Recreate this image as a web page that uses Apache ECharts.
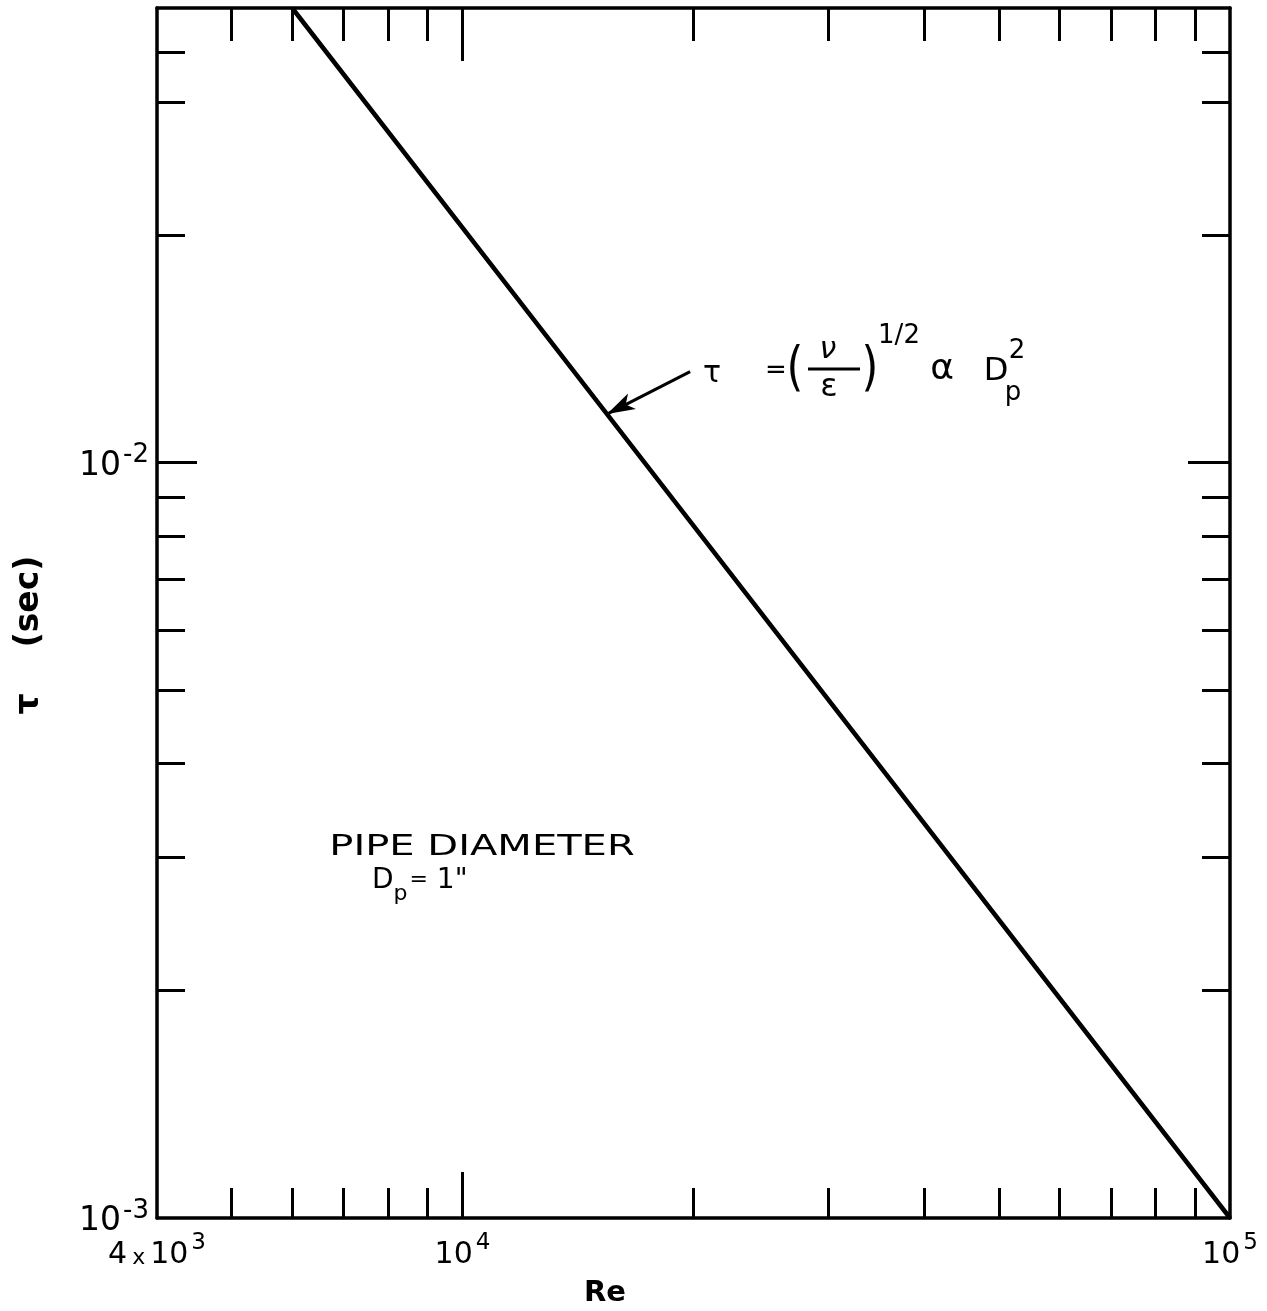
<!DOCTYPE html>
<html>
<head>
<meta charset="utf-8">
<title>Relaxation time vs Reynolds number</title>
<script src="https://cdn.jsdelivr.net/npm/echarts@6/dist/echarts.min.js"></script>
<style>
  html, body { margin: 0; padding: 0; background: #fff; }
  #chart { width: 1267px; height: 1311px; }
</style>
</head>
<body>
<div id="chart"></div>
<script>
// tau (sec) against Re for a 1-inch pipe, log-log
const reynolds = [6000, 15430, 100000];
const tauSec = [0.0400, 0.01160, 0.00100];

// tick positions
const xMinorTicks = [5000, 6000, 7000, 8000, 9000, 20000, 30000, 40000, 50000, 60000, 70000, 80000, 90000];
const xMajorTicks = [10000];
const yMinorTicks = [0.002, 0.003, 0.004, 0.005, 0.006, 0.007, 0.008, 0.009, 0.02, 0.03, 0.035];
const yMajorTicks = [0.01];

// tick labels: mantissa, base 10, exponent
const xLabelValues = [4000, 10000, 100000];
const xLabelMantissas = ['4', '', ''];
const xLabelExponents = ['3', '4', '5'];
const yLabelValues = [0.001, 0.01];
const yLabelExponents = ['-3', '-2'];

// arrow from the formula to the curve
const arrowFrom = [19800, 0.0132];
const arrowTo = [15430, 0.01160];

const FONT = 'DejaVu Sans';
const INK = '#000';

function nearestIndex(list, v) {
  let best = 0, bestD = Infinity;
  list.forEach((t, i) => {
    const d = Math.abs(Math.log(t) - Math.log(v));
    if (d < bestD) { bestD = d; best = i; }
  });
  return best;
}

const xLabelRich = {
  b: { fontFamily: FONT, fontSize: 30, color: INK, verticalAlign: 'bottom' },
  t: { fontFamily: FONT, fontSize: 22, color: INK, verticalAlign: 'bottom', padding: [0, 5, 1, 5] },
  e: { fontFamily: FONT, fontSize: 23, color: INK, verticalAlign: 'bottom', padding: [0, 0, 15, 3] }
};
const yLabelRich = {
  b: { fontFamily: FONT, fontSize: 33, color: INK, verticalAlign: 'bottom' },
  e: { fontFamily: FONT, fontSize: 26, color: INK, verticalAlign: 'bottom', padding: [0, 0, 14, 2] }
};

function xLabel(v) {
  const i = nearestIndex(xLabelValues, v);
  const m = xLabelMantissas[i];
  return (m ? '{b|' + m + '}{t|x}' : '') + '{b|10}{e|' + xLabelExponents[i] + '}';
}
function yLabel(v) {
  const i = nearestIndex(yLabelValues, v);
  return '{b|10}{e|' + yLabelExponents[i] + '}';
}

const axisLine = { show: true, onZero: false, lineStyle: { color: INK, width: 3.5 } };
const noLine = { show: false };
const noLabel = { show: false };
const tickStyle = { color: INK, width: 3 };

function xAxisDef(position, ticks, len, withLine, withLabel) {
  return {
    type: 'log', logBase: 10, min: 4000, max: 100000, position: position,
    gridIndex: 0,
    axisLine: withLine ? axisLine : noLine,
    splitLine: { show: false },
    minorTick: { show: false },
    axisTick: { show: true, inside: true, length: len, customValues: ticks, lineStyle: tickStyle },
    axisLabel: withLabel ? {
      show: true, customValues: xLabelValues, formatter: xLabel, rich: xLabelRich, margin: 14
    } : noLabel
  };
}
function yAxisDef(position, ticks, len, withLine, withLabel) {
  return {
    type: 'log', logBase: 10, min: 0.001, max: 0.04, position: position,
    gridIndex: 0,
    axisLine: withLine ? axisLine : noLine,
    splitLine: { show: false },
    minorTick: { show: false },
    axisTick: { show: true, inside: true, length: len, customValues: ticks, lineStyle: tickStyle },
    axisLabel: withLabel ? {
      show: true, customValues: yLabelValues, formatter: yLabel, rich: yLabelRich, margin: 8
    } : noLabel
  };
}

const option = {
  animation: false,
  backgroundColor: '#fff',
  grid: { left: 157, right: 37, top: 8, bottom: 93, containLabel: false },
  xAxis: [
    xAxisDef('bottom', xMinorTicks, 30, true, true),
    xAxisDef('bottom', xMajorTicks, 46, false, false),
    xAxisDef('top', xMinorTicks, 33, true, false),
    xAxisDef('top', xMajorTicks, 53, false, false)
  ],
  yAxis: [
    yAxisDef('left', yMinorTicks, 28, true, true),
    yAxisDef('left', yMajorTicks, 40, false, false),
    yAxisDef('right', yMinorTicks, 28, true, false),
    yAxisDef('right', yMajorTicks, 42, false, false)
  ],
  series: [{
    type: 'line',
    xAxisIndex: 0, yAxisIndex: 0,
    data: reynolds.map((r, i) => [r, tauSec[i]]),
    symbol: 'none',
    lineStyle: { color: INK, width: 4.5 },
    silent: true,
    markLine: {
      silent: true,
      symbol: ['none', 'arrow'],
      symbolSize: [13, 28],
      itemStyle: { color: INK },
      lineStyle: { color: INK, width: 3, type: 'solid', curveness: -0.12 },
      label: { show: false },
      data: [[{ coord: arrowFrom }, { coord: arrowTo }]]
    }
  }],
  graphic: [
    // axis titles
    { type: 'text', x: 605, y: 1293, style: { text: 'Re', font: 'bold 29px ' + FONT, fill: INK, align: 'center', verticalAlign: 'middle' } },
    { type: 'text', x: 29, y: 635, rotation: Math.PI / 2,
      style: { text: 'τ    (sec)', font: 'bold 33px ' + FONT, fill: INK, align: 'center', verticalAlign: 'middle' } },
    // pipe note
    { type: 'text', x: 482, y: 847, scaleX: 1.38,
      style: { text: 'PIPE DIAMETER', font: '29px ' + FONT, fill: INK, align: 'center', verticalAlign: 'middle' } },
    { type: 'text', x: 372, y: 886,
      style: {
        text: '{d|D}{p|p}{q|=}{d| 1"}', align: 'left', verticalAlign: 'middle',
        rich: {
          d: { fontFamily: FONT, fontSize: 28, fill: INK, color: INK, verticalAlign: 'bottom', padding: [0, 0, 10, 0] },
          q: { fontFamily: FONT, fontSize: 22, fill: INK, color: INK, verticalAlign: 'bottom', padding: [0, 0, 14, 0] },
          p: { fontFamily: FONT, fontSize: 22, fill: INK, color: INK, verticalAlign: 'bottom', padding: [0, 2, 0, 0] }
        }
      } },
    // formula: tau = (nu / epsilon)^(1/2) alpha D_p^2
    { type: 'text', x: 712, y: 374, style: { text: 'τ', font: '30px ' + FONT, fill: INK, align: 'center', verticalAlign: 'middle' } },
    { type: 'text', x: 776, y: 371, style: { text: '=', font: '26px ' + FONT, fill: INK, align: 'center', verticalAlign: 'middle' } },
    { type: 'text', x: 795, y: 371, scaleX: 0.8, style: { text: '(', font: '54px ' + FONT, fill: INK, align: 'center', verticalAlign: 'middle' } },
    { type: 'text', x: 828, y: 350, style: { text: 'ν', font: 'italic 30px ' + FONT, fill: INK, align: 'center', verticalAlign: 'middle' } },
    { type: 'line', shape: { x1: 808, y1: 369, x2: 860, y2: 369 }, style: { stroke: INK, lineWidth: 3 } },
    { type: 'text', x: 829, y: 388, style: { text: 'ε', font: '32px ' + FONT, fill: INK, align: 'center', verticalAlign: 'middle' } },
    { type: 'text', x: 870, y: 371, scaleX: 0.8, style: { text: ')', font: '54px ' + FONT, fill: INK, align: 'center', verticalAlign: 'middle' } },
    { type: 'text', x: 899, y: 336, style: { text: '1/2', font: '26px ' + FONT, fill: INK, align: 'center', verticalAlign: 'middle' } },
    { type: 'text', x: 942, y: 370, style: { text: 'α', font: '36px ' + FONT, fill: INK, align: 'center', verticalAlign: 'middle' } },
    { type: 'text', x: 996, y: 372, style: { text: 'D', font: '32px ' + FONT, fill: INK, align: 'center', verticalAlign: 'middle' } },
    { type: 'text', x: 1017, y: 351, style: { text: '2', font: '26px ' + FONT, fill: INK, align: 'center', verticalAlign: 'middle' } },
    { type: 'text', x: 1013, y: 393, style: { text: 'p', font: '26px ' + FONT, fill: INK, align: 'center', verticalAlign: 'middle' } }
  ]
};

const chart = echarts.init(document.getElementById('chart'), null, { renderer: 'canvas' });
chart.setOption(option);
</script>
</body>
</html>
